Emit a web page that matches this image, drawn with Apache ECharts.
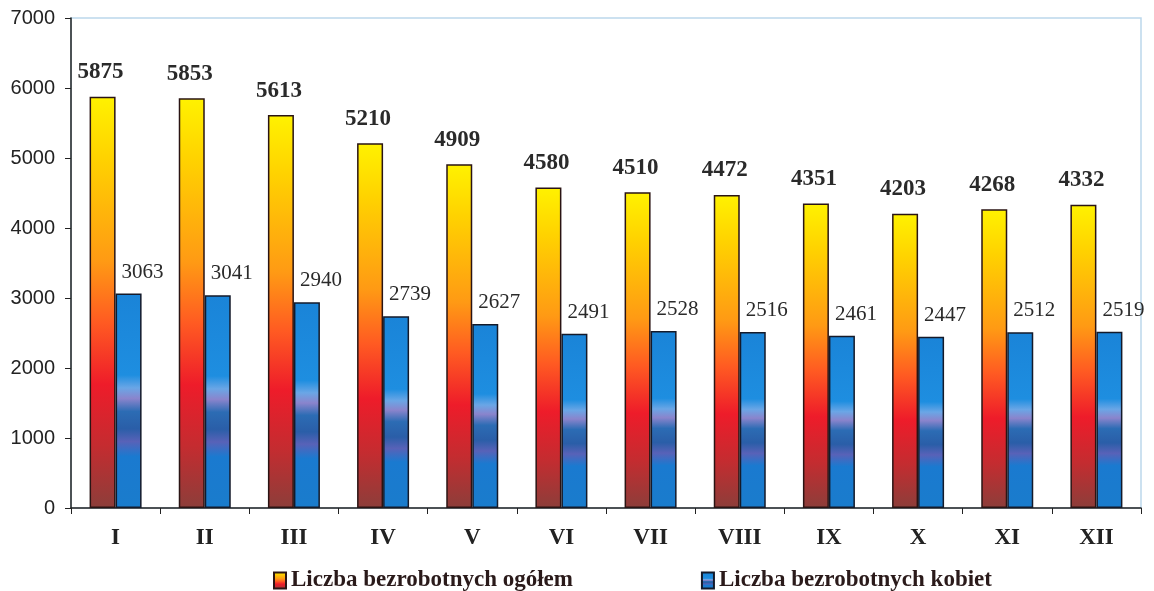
<!DOCTYPE html>
<html>
<head>
<meta charset="utf-8">
<script src="https://cdn.jsdelivr.net/npm/echarts@6/dist/echarts.min.js"></script>
<style>
  html, body { margin: 0; padding: 0; background: #fff; }
  #chart { width: 1154px; height: 591px; }
</style>
</head>
<body>
<div id="chart"></div>
<script>
  var months = ['I', 'II', 'III', 'IV', 'V', 'VI', 'VII', 'VIII', 'IX', 'X', 'XI', 'XII'];
  var ogolem = [5875, 5853, 5613, 5210, 4909, 4580, 4510, 4472, 4351, 4203, 4268, 4332];
  var kobiety = [3063, 3041, 2940, 2739, 2627, 2491, 2528, 2516, 2461, 2447, 2512, 2519];
  var names = ['Liczba bezrobotnych ogółem', 'Liczba bezrobotnych kobiet'];

  var chart = echarts.init(document.getElementById('chart'));

  // orange bar: yellow top -> orange -> red -> brown bottom
  var orangeFill = new echarts.graphic.LinearGradient(0, 0, 0, 1, [
    { offset: 0, color: '#fff200' },
    { offset: 0.15, color: '#ffd200' },
    { offset: 0.4, color: '#ff9a14' },
    { offset: 0.55, color: '#ff5a22' },
    { offset: 0.7, color: '#ee1c2a' },
    { offset: 0.85, color: '#c42c30' },
    { offset: 1, color: '#8c3e3a' }
  ]);
  // blue bar with the lighter / darker band in the lower half
  var blueFill = new echarts.graphic.LinearGradient(0, 0, 0, 1, [
    { offset: 0, color: '#1a84d8' },
    { offset: 0.38, color: '#1e8ee0' },
    { offset: 0.44, color: '#6aa6e6' },
    { offset: 0.49, color: '#8a84cc' },
    { offset: 0.55, color: '#2c6cb4' },
    { offset: 0.63, color: '#2a5ea8' },
    { offset: 0.69, color: '#5862b8' },
    { offset: 0.76, color: '#1a7ad0' },
    { offset: 1, color: '#1a7ccc' }
  ]);

  var option = {
    animation: false,
    backgroundColor: '#ffffff',
    grid: {
      left: 71,
      right: 13,
      top: 18,
      bottom: 83,
      show: true,
      borderColor: '#bcd8ec',
      borderWidth: 1.5
    },
    legend: {
      data: names,
      top: 564,
      left: 268,
      itemGap: 128,
      itemWidth: 12,
      itemHeight: 16,
      icon: 'rect',
      textStyle: {
        fontFamily: 'Liberation Serif',
        fontWeight: 'bold',
        fontSize: 23,
        color: '#2a1a1a'
      }
    },
    xAxis: {
      type: 'category',
      data: months,
      axisLine: { lineStyle: { color: '#222', width: 1.5 } },
      axisTick: { show: true, length: 6, lineStyle: { color: '#222' } },
      axisLabel: {
        margin: 19,
        fontFamily: 'Liberation Serif',
        fontWeight: 'bold',
        fontSize: 23,
        color: '#222'
      }
    },
    yAxis: {
      type: 'value',
      min: 0,
      max: 7000,
      interval: 1000,
      axisLine: { show: true, lineStyle: { color: '#222', width: 1.5 } },
      axisTick: { show: true, length: 6, lineStyle: { color: '#222' } },
      splitLine: { show: false },
      axisLabel: {
        margin: 16,
        formatter: function (v) { return String(v); },
        fontFamily: 'Liberation Sans',
        fontSize: 20,
        color: '#222'
      }
    },
    series: [
      {
        name: names[0],
        type: 'bar',
        data: ogolem,
        barWidth: 26,
        barGap: '0%',
        itemStyle: { color: orangeFill, borderColor: '#2a1414', borderWidth: 1.5 },
        label: {
          show: true,
          position: 'top',
          distance: 13,
          offset: [-2, 0],
          fontFamily: 'Liberation Serif',
          fontWeight: 'bold',
          fontSize: 23,
          color: '#2a2a2a'
        }
      },
      {
        name: names[1],
        type: 'bar',
        data: kobiety,
        barWidth: 26,
        itemStyle: { color: blueFill, borderColor: '#141a2a', borderWidth: 1.5 },
        label: {
          show: true,
          position: 'top',
          distance: 11,
          offset: [14, 0],
          fontFamily: 'Liberation Serif',
          fontSize: 21,
          color: '#2a2a2a'
        }
      }
    ]
  };

  chart.setOption(option);
</script>
</body>
</html>
